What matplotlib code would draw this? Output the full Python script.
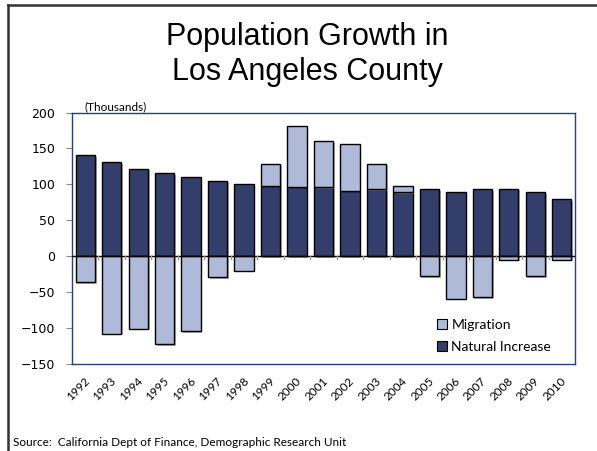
import numpy as np
import matplotlib
matplotlib.use("Agg")
import matplotlib.pyplot as plt
import matplotlib.patheffects as pe
from matplotlib.lines import Line2D
from matplotlib.patches import Patch

# data (thousands)
years = [str(y) for y in range(1992, 2011)]
natural_increase = [141, 131, 122, 116, 110, 105, 100, 98, 97, 96, 91, 93, 89, 93, 89, 93, 94, 89, 79]
migration = [-36, -108, -101, -122, -104, -29, -20, 31, 84, 64, 65, 36, 9, -28, -59, -57, -5, -28, -5]

dark = "#333f6a"
light = "#afb9d8"
frame_blue = "#2a3f7a"

fig = plt.figure(figsize=(5.97, 4.51), dpi=100)
ax = fig.add_axes([72 / 597, 1 - 364 / 451, 503 / 597, 251.5 / 451])

x = np.arange(len(years))
nat = np.array(natural_increase)
mig = np.array(migration)
mig_bottom = np.where(mig > 0, nat, 0)

# excel-style soft shadow on the bars
shadow = [pe.SimplePatchShadow(offset=(1.2, -1.2), shadow_rgbFace="#7a7a7a", alpha=0.6), pe.Normal()]

bars1 = ax.bar(x, nat, width=0.73, color=dark, edgecolor="black", linewidth=1.0, zorder=2)
bars2 = ax.bar(x, mig, width=0.73, bottom=mig_bottom, color=light, edgecolor="black", linewidth=1.0, zorder=2)
for b in list(bars1) + list(bars2):
    b.set_path_effects(shadow)

ax.axhline(0, color="black", linewidth=1.0, zorder=3)

ax.set_xlim(-0.5, len(years) - 0.5)
ax.set_ylim(-150, 200)
ax.set_yticks([-150, -100, -50, 0, 50, 100, 150, 200])
ax.tick_params(axis="y", length=4, color="#888888", labelsize=9, pad=8)

# year labels, small tick marks on zero line between categories
ax.set_xticks(x)
ax.set_xticklabels([])
ax.tick_params(axis="x", length=0)
for i in range(1, len(years)):
    ax.plot([i - 0.5, i - 0.5], [0, -4], color="#999999", linewidth=1.0, zorder=3)
for i, yr in enumerate(years):
    ax.annotate(yr, xy=(i, -150), xytext=(-1, -8), textcoords="offset points",
                rotation=45, ha="right", va="top", rotation_mode="anchor",
                fontsize=8.5, family="Lato")

for s in ax.spines.values():
    s.set_color(frame_blue)
    s.set_linewidth(1.0)

# legend
handles = [Patch(facecolor=light, edgecolor="black", linewidth=0.8, label="Migration"),
           Patch(facecolor=dark, edgecolor="black", linewidth=0.8, label="Natural Increase")]
ax.legend(handles=handles, loc="lower left", bbox_to_anchor=(0.725, 0.045), frameon=False,
          borderpad=0, borderaxespad=0,
          handlelength=0.75, handleheight=0.75, handletextpad=0.3, labelspacing=0.7,
          prop={"family": "Lato", "size": 10})

# titles and notes
fig.text(307 / 597, 1 - 45 / 451, "Population Growth in", ha="center", va="baseline",
         fontsize=22, family="Liberation Sans")
fig.text(307 / 597, 1 - 80 / 451, "Los Angeles County", ha="center", va="baseline",
         fontsize=22, family="Liberation Sans")
fig.text(85 / 597, 1 - 112 / 451, "(Thousands)", ha="left", va="bottom", fontsize=8.5, family="Lato")
fig.text(13 / 597, 1 - 443 / 451, "Source:  California Dept of Finance, Demographic Research Unit",
         ha="left", va="center", fontsize=8.5, family="Lato")

# slide border (left and top)
fig.add_artist(Line2D([8 / 597, 8 / 597], [0, 1 - 5 / 451], color="#333333", linewidth=1.8))
fig.add_artist(Line2D([8 / 597, 1], [1 - 5 / 451, 1 - 5 / 451], color="#333333", linewidth=1.8))

fig.savefig("out.png", dpi=100)
